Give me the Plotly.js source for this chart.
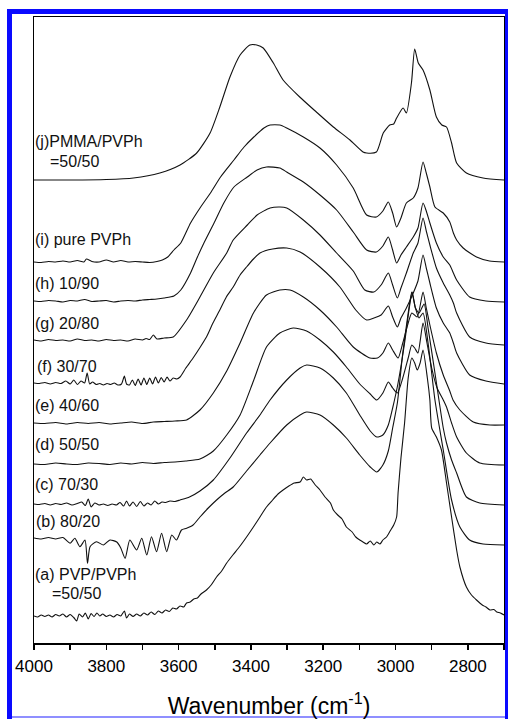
<!DOCTYPE html>
<html><head><meta charset="utf-8">
<script src="https://cdn.plot.ly/plotly-3.0.1.min.js"></script>
<style>html,body{margin:0;padding:0;background:#fff;} #chart{width:508px;height:719px;}</style>
</head><body><div id="chart"></div>
<script>
// Wavenumber (cm-1) and intensity (arbitrary units, stacked) for each spectrum
const wn_j = [4000,3900,3800,3725,3652,3596,3550,3513,3486,3458,3430,3403,3384,3366,3338,3311,3265,3219,3172,3126,3090,3080,3053,3034,3016,3005,2997,2979,2970,2956,2947,2937,2924,2905,2887,2872,2859,2845,2831,2804,2758,2700];
const abs_j = [463,463,463.5,465,470,478,490,510,536,566,588,598,598,595,580,563,546,531,516,503,491,490,491,510,518,519,525,535,530,560,594,580,573,553,526,518,516,500,480,470,465,463];

const wn_i = [4000,3980,3960,3940,3920, 3900,3880,3862,3855,3840, 3820,3800,3780,3760,3740, 3720,3700,3680,3660,3645, 3630,3613,3594,3567,3539, 3512,3484,3447,3419,3392, 3364,3347,3320,3301,3255, 3209,3163,3117,3080,3053, 3035,3020,3008,2997,2985, 2970,2951,2938,2924,2915, 2905,2891,2868,2850,2840, 2831,2813,2776,2740,2700];
const abs_i = [381,380.5,381.5,381,382, 381,382.5,381,384,381.5, 381,383,381,382.5,381, 381.5,381,380.5,381.5,383, 386,393,400,420,436, 450,466,483,496,506, 515,518,518,515,506, 495,478,455,428,426, 432,441,430,416,425, 440,445,455,481,470, 456,436,430,421,410, 403,395,386,382,381];

const wn_h = [4000,3980,3960,3940,3920, 3900,3880,3860,3840,3820, 3800,3780,3760,3740,3720, 3700,3680,3660,3640,3613, 3594,3567,3548,3530,3502, 3475,3447,3410,3383,3357, 3320,3301,3255,3209,3163, 3117,3080,3053,3035,3020, 3008,2997,2985,2970,2951, 2938,2924,2915,2905,2887, 2868,2850,2840,2831,2795, 2750,2700];
const abs_h = [342,341.5,342.5,342,341, 342.5,342,343.5,341.5,342, 342.5,341,342,342.5,342, 343,343.5,344,345,347, 353,370,386,400,420, 440,456,466,473,476, 475,471,461,448,433, 411,393,391,397,406, 393,380,388,396,406, 415,440,432,420,400, 386,378,370,363,346, 342,341];

const wn_g = [4000,3980,3960,3940,3920, 3900,3880,3860,3840,3820, 3800,3780,3760,3740,3720, 3700,3690,3680,3670,3660, 3640,3615,3578,3541,3504, 3467,3449,3410,3383,3347, 3320,3301,3255,3209,3163, 3117,3085,3060,3040,3020, 3008,2995,2985,2970,2951, 2938,2924,2915,2905,2887, 2868,2850,2840,2831,2795, 2750,2700];
const abs_g = [303,302,303.5,302.5,303, 302,304,302.5,303,302, 303.5,302.5,303,302,304, 303,304.5,303.5,308,304, 305,306,323,346,370, 390,403,418,428,435, 436,435,423,408,390, 372,353,351,358,370, 358,345,355,370,390, 400,425,412,398,375, 360,348,340,330,306, 300,298];

const wn_f = [4000,3985,3970,3955,3940, 3925,3912,3900,3890,3880, 3870,3860,3853,3846,3838, 3828,3818,3808,3798,3788, 3778,3768,3758,3750,3744, 3736,3728,3720,3712,3704, 3696,3688,3680,3672,3664, 3656,3648,3640,3632,3624, 3615,3605,3596,3580,3560, 3540,3523,3505,3486,3468, 3449,3430,3412,3393,3375, 3340,3301,3264,3209,3154, 3110,3080,3060,3040,3020, 3008,2995,2985,2970,2951, 2938,2924,2915,2905,2887, 2868,2850,2840,2831,2795, 2750,2700];
const abs_f = [260,259.5,260.5,259,260.5, 259.5,262,259,263,258.5, 262,260,270,259,261, 258.5,259.5,258,259.5,258.5, 260,258,259,267,259, 258,263,257.5,264,258, 265,258.5,265,259,266, 260,265.5,261,266,262, 265,264,266,275,285, 296,306,320,333,346, 356,368,376,384,390, 394,395,391,376,356, 333,323,325,328,337, 326,316,325,335,350, 362,388,375,360,335, 320,310,300,290,268, 262,259];

const wn_e = [4000,3970,3940,3910,3880, 3850,3820,3790,3760,3730, 3700,3670,3640,3610,3578, 3541,3504,3467,3430,3393, 3357,3320,3292,3255,3209, 3163,3117,3071,3050,3035, 3020,3008,2993,2980,2965, 2955,2940,2924,2915,2905, 2887,2868,2850,2841,2822, 2785,2739,2700];
const abs_e = [220,219.5,220.5,219,220.5, 219.5,220.5,219,220,221, 219.5,221,221.5,222,223, 233,250,272,300,330, 348,353,353,346,333, 316,296,285,285,290, 300,293,285,300,320, 330,326,351,335,318, 290,268,252,243,233, 221,218,218];

const wn_d = [4000,3970,3940,3910,3880, 3850,3820,3790,3760,3730, 3700,3670,3640,3610,3580, 3541,3504,3467,3430,3393, 3357,3320,3283,3246,3209, 3172,3136,3099,3070,3052, 3035,3020,3008,2995,2980, 2965,2955,2947,2938,2924, 2913,2900,2885,2868,2859, 2845,2831,2804,2767,2700];
const abs_d = [179,178.5,180,179,178.5, 180,179.5,178.5,180,179, 180.5,179.5,180.5,181,182, 184,192,208,228,262, 296,310,315,312,303, 291,276,259,249,243, 250,261,255,250,265, 285,298,295,290,320, 300,275,255,243,236, 220,206,190,180,178];

const wn_c = [4000,3985,3970,3955,3940, 3925,3910,3895,3880,3868, 3858,3850,3842,3832,3820, 3808,3796,3784,3772,3762, 3752,3744,3736,3726,3716, 3706,3696,3686,3676,3666, 3656,3646,3636,3624,3610, 3596,3570,3541,3504,3458, 3412,3375,3347,3301,3264, 3246,3209,3172,3136,3099, 3070,3052,3035,3020,3008, 2993,2975,2962,2954,2945, 2935,2921,2910,2891,2868, 2859,2845,2831,2804,2767, 2700];
const abs_c = [139,138.5,139.5,138,139.5, 138.5,140,138,139.5,141, 137.5,144,136,140,138, 139,137.5,139,138,140.5, 137,142,137,141,136.5, 141.5,137,140,138,142, 139,141,140.5,142,141.5, 143,146,152,163,185, 210,228,243,263,275, 278,275,265,250,228, 212,206,208,218,235, 260,300,335,351,335, 330,339,315,270,215, 200,183,170,146,140, 138];

const wn_b = [4000,3980,3960,3940,3920, 3900,3887,3873,3859,3852, 3845,3827,3808,3790,3771, 3760,3748,3735,3716,3702, 3688,3675,3661,3647,3633, 3619,3606,3592,3578,3560, 3541,3518,3495,3472,3449, 3412,3375,3347,3301,3264, 3246,3209,3172,3136,3099, 3070,3052,3035,3020,3008, 2995,2980,2965,2955,2945, 2935,2924,2910,2891,2868, 2845,2822,2795,2758,2700];
const abs_b = [105,104,105.5,104,105.5, 99.7,104.7,96.3,103,79.7, 96.3,101.3,98,103,101, 95,84.7,103,93,104.7, 88,106.3,91.3,109.7,91.3, 108,103,113,114.7,118, 126,135,143,150,156, 172,188,200,218,228, 231,228,218,205,188, 176,171,178,192,215, 240,290,330,351,335, 325,330,300,243,193, 143,116,103,99,98];

const wn_a = [4000,3990,3980,3970,3960, 3950,3940,3930,3920,3910, 3900,3890,3882,3875,3866, 3858,3850,3842,3834,3826, 3818,3810,3800,3790,3780, 3770,3760,3750,3744,3736, 3726,3716,3706,3696,3686, 3676,3666,3656,3646,3636, 3626,3616,3606,3596,3586, 3578,3568,3558,3548,3538, 3523,3510,3495,3481,3467, 3450,3430,3412,3395,3375, 3357,3340,3325,3311,3295, 3280,3264,3255,3246,3235, 3222,3209,3195,3180,3172, 3160,3148,3136,3120,3110, 3099,3090,3080,3070,3060, 3052,3043,3035,3025,3015, 3005,2997,2993,2985,2975, 2965,2955,2947,2940,2932, 2924,2912,2905,2900,2887, 2873,2859,2845,2831,2822, 2804,2790,2776,2760,2750, 2739,2728,2720,2710,2700];
const abs_a = [27,26,28,26.5,28, 26,28.5,27,29,26, 28.5,25.5,22,29,26, 30,24,29.5,26.5,30, 27,29,26.5,28,26, 28.5,27,32,25,29, 26.5,29,27,30,28, 31,28.5,32,30,33, 31.5,35,34,37,36, 40,41,44,45,49, 53,58,66,72,80, 88,97,106,115,126, 136,143,149,153,157, 160,161,166,163,164, 158,153,146,140,133, 128,124,116,111,106, 103,101,99,102,98, 101,99,103,106,112, 118,126,150,185,220, 265,285,280,273,280, 293,265,243,215,206, 193,160,126,93,76, 56,48,43,38,36, 33,33.5,31,30,28];

const labelTexts = ['(j)PMMA/PVPh','=50/50','(i) pure PVPh','(h) 10/90','(g) 20/80','(f) 30/70','(e) 40/60','(d) 50/50','(c) 70/30','(b) 80/20','(a) PVP/PVPh','=50/50'];
const tickVals = [4000,3800,3600,3400,3200,3000,2800];
const tickText = ['4000','3800','3600','3400','3200','3000','2800'];
const minorTickVals = [3900,3700,3500,3300,3100,2900,2700];

// ---- layout helpers (pixel geometry of the figure) ----
const W = 508, H = 719, L = 34, R = 4, T = 17, B = 76;
const PW = W - L - R, PH = H - T - B;
const px = x => (x - L) / PW;
const py = y => (H - B - y) / PH;

const series = [[wn_j,abs_j],[wn_i,abs_i],[wn_h,abs_h],[wn_g,abs_g],[wn_f,abs_f],[wn_e,abs_e],[wn_d,abs_d],[wn_c,abs_c],[wn_b,abs_b],[wn_a,abs_a]];
const traces = series.map(([x,y]) => ({
  x: x, y: y, type: 'scatter', mode: 'lines',
  line: {color: '#111', width: 1.1, shape: 'spline', smoothing: 0.6},
  hoverinfo: 'skip', showlegend: false
}));

const labelPos = [[33,141.7],[48,161.5],[33,239],[33,283.3],[33,323.5],[35,366],[33,405.7],[33,444.3],[33,484],[34,521.7],[33,574.3],[50,593.3]];
const annotations = labelTexts.map((t,k) => ({
  text: t, xref: 'paper', yref: 'paper', x: px(labelPos[k][0]), y: py(labelPos[k][1]),
  xanchor: 'left', yanchor: 'middle', showarrow: false,
  font: {family: 'Liberation Sans, Arial, sans-serif', size: 16, color: '#111'}
}));

const blue = '#0a0aff';
const rectPx = (x0,y0,x1,y1,c) => ({type:'rect', xref:'paper', yref:'paper', x0:px(x0), x1:px(x1), y0:py(y1), y1:py(y0), fillcolor:c, line:{width:0}, layer:'above'});
const shapes = [
  rectPx(7,9,12,719,blue),
  rectPx(7,9,508,14,blue),
  rectPx(505,9,508,719,blue),
  rectPx(12,716,505,718,'#8f8fff')
];

const layout = {
  width: W, height: H,
  margin: {l: L, r: R, t: T, b: B, pad: 0},
  paper_bgcolor: '#fff', plot_bgcolor: '#fff',
  showlegend: false,
  xaxis: {
    range: [4000, 2700], autorange: false,
    tickmode: 'array', tickvals: tickVals, ticktext: tickText,
    ticks: 'outside', ticklen: 5, tickwidth: 1.5, tickcolor: '#000',
    ticklabelstandoff: 2,
    minor: {tickmode: 'array', tickvals: minorTickVals, ticks: 'outside', ticklen: 5, tickwidth: 1.5, tickcolor: '#000', showgrid: false},
    showline: true, linewidth: 1.5, linecolor: '#000', mirror: true,
    showgrid: false, zeroline: false,
    tickfont: {family: 'Liberation Sans, Arial, sans-serif', size: 17, color: '#000'},
    title: {text: 'Wavenumber (cm<sup>-1</sup>)', standoff: 27,
            font: {family: 'Liberation Sans, Arial, sans-serif', size: 23, color: '#000'}},
    automargin: false
  },
  yaxis: {
    range: [0, 626], autorange: false,
    showticklabels: false, ticks: '',
    showline: true, linewidth: 1.5, linecolor: '#000', mirror: true,
    showgrid: false, zeroline: false, automargin: false
  },
  annotations: annotations,
  shapes: shapes
};

Plotly.newPlot('chart', traces, layout, {staticPlot: true, displayModeBar: false});
</script>
</body></html>
